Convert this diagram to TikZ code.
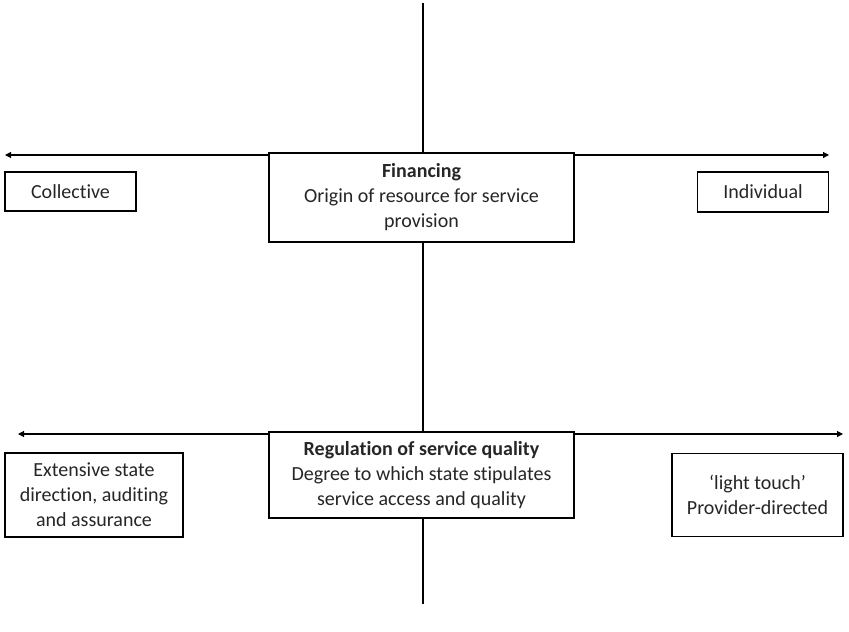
\documentclass[tikz,border=0pt]{standalone}
\usepackage{fontspec}
\setmainfont{Carlito}[Ligatures=CommonOff]
\usetikzlibrary{arrows.meta}
\begin{document}
\begin{tikzpicture}[x=1pt, y=-1pt, font=\fontsize{20}{25}\selectfont,
  box/.style={draw, line width=1.1pt, fill=white, text=black!85, align=center, inner sep=0pt},
  axis/.style={line width=1.1pt, {Triangle[length=6pt,width=6pt]}-{Triangle[length=6pt,width=6pt]}}]
\useasboundingbox (0,0) rectangle (849,632);
\coordinate (top) at (423,3);
\coordinate (bot) at (423,604);
\coordinate (finL) at (5,155);
\coordinate (finR) at (829,155);
\coordinate (regL) at (18,434);
\coordinate (regR) at (843,434);
\draw[line width=1.1pt] (top) -- (bot);
\draw[axis] (finL) -- (finR);
\draw[axis] (regL) -- (regR);

\node[box, minimum width=305, minimum height=89] (fin) at (421.5,197.5){\textbf{Financing}\\Origin of resource for service\\provision};
\node[box, minimum width=131, minimum height=39] (coll) at (70.5,191.5){Collective};
\node[box, minimum width=131, minimum height=40] (indiv) at (763,192){Individual};

\node[box, minimum width=305, minimum height=86] (reg) at (421.5,475){\textbf{Regulation of service quality}\\Degree to which state stipulates\\service access and quality};
\node[box, minimum width=178, minimum height=84] (ext) at (94,495){Extensive state\\direction, auditing\\and assurance};
\node[box, minimum width=171, minimum height=83] (light) at (757.5,495){‘light touch’\\Provider-directed};

\end{tikzpicture}
\end{document}
